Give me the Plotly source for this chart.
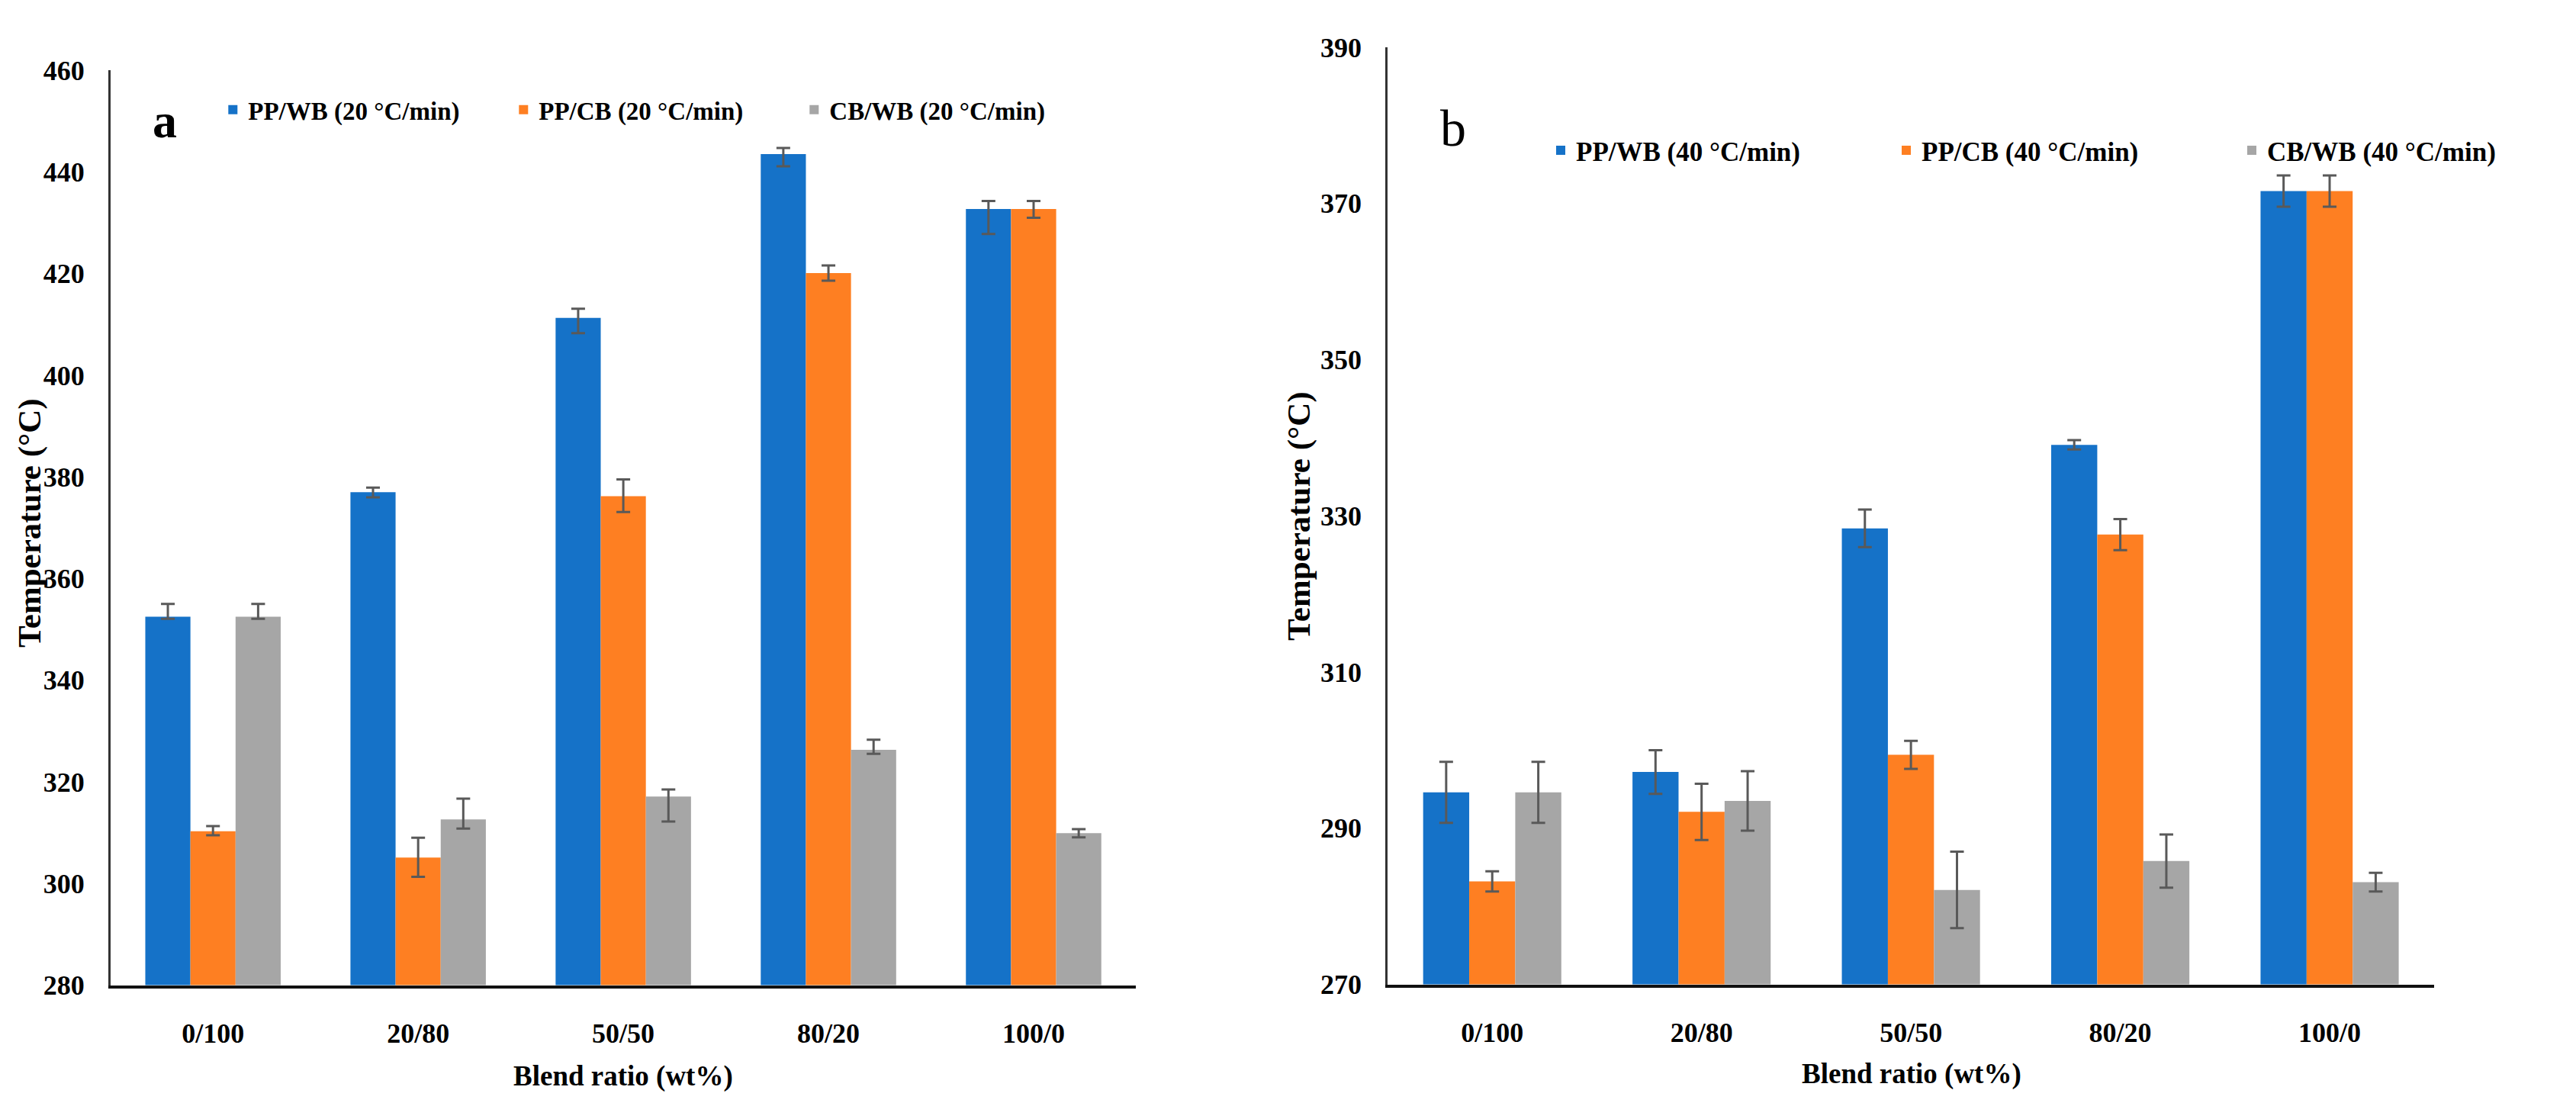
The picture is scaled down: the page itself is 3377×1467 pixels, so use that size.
import plotly.graph_objects as go

categories = ["0/100", "20/80", "50/50", "80/20", "100/0"]

# Panel a (20 °C/min)
a_names = ["PP/WB (20 °C/min)", "PP/CB (20 °C/min)", "CB/WB (20 °C/min)"]
a_ppwb = [352.5, 377.0, 411.3, 443.5, 432.7]
a_ppwb_plus = [2.5, 0.9, 1.8, 1.2, 1.6]
a_ppwb_minus = [0.4, 1.0, 3.0, 2.4, 4.9]
a_ppcb = [310.3, 305.1, 376.2, 420.1, 432.7]
a_ppcb_plus = [1.0, 3.9, 3.3, 1.5, 1.6]
a_ppcb_minus = [0.8, 3.8, 3.1, 1.5, 1.7]
a_cbwb = [352.5, 312.6, 317.1, 326.3, 309.9]
a_cbwb_plus = [2.5, 4.1, 1.4, 2.0, 0.8]
a_cbwb_minus = [0.4, 1.8, 4.9, 0.8, 0.8]

# Panel b (40 °C/min)
b_names = ["PP/WB (40 °C/min)", "PP/CB (40 °C/min)", "CB/WB (40 °C/min)"]
b_ppwb = [294.6, 297.2, 328.4, 339.1, 371.6]
b_ppwb_err = [3.9, 2.8, 2.4, 0.6, 2.0]
b_ppcb = [283.2, 292.1, 299.4, 327.6, 371.6]
b_ppcb_err = [1.3, 3.6, 1.8, 2.0, 2.0]
b_cbwb = [294.6, 293.5, 282.1, 285.8, 283.1]
b_cbwb_err = [3.9, 3.8, 4.9, 3.4, 1.2]

a_yticks = [280, 300, 320, 340, 360, 380, 400, 420, 440, 460]
b_yticks = [270, 290, 310, 330, 350, 370, 390]

colors = ["#1572C8", "#FE7F22", "#A6A6A6"]
err_color = "#595959"
W, H = 3377, 1467
FONT = "Liberation Serif, Times New Roman, serif"

fig = go.Figure()

a_vals = [a_ppwb, a_ppcb, a_cbwb]
a_plus = [a_ppwb_plus, a_ppcb_plus, a_cbwb_plus]
a_minus = [a_ppwb_minus, a_ppcb_minus, a_cbwb_minus]
for i in range(3):
    fig.add_trace(go.Bar(
        x=categories, y=a_vals[i], name=a_names[i],
        marker=dict(color=colors[i], line=dict(width=0)),
        error_y=dict(type="data", symmetric=False, array=a_plus[i], arrayminus=a_minus[i],
                     color=err_color, thickness=3, width=9),
        xaxis="x", yaxis="y", legend="legend", offsetgroup=str(i),
    ))

b_vals = [b_ppwb, b_ppcb, b_cbwb]
b_errs = [b_ppwb_err, b_ppcb_err, b_cbwb_err]
for i in range(3):
    fig.add_trace(go.Bar(
        x=categories, y=b_vals[i], name=b_names[i],
        marker=dict(color=colors[i], line=dict(width=0)),
        error_y=dict(type="data", array=b_errs[i], color=err_color, thickness=3, width=9),
        xaxis="x2", yaxis="y2", legend="legend2", offsetgroup=str(i),
    ))

tickfont = dict(family=FONT, size=36, color="black", weight="bold")

def xax(domain, anchor):
    return dict(domain=domain, anchor=anchor, showgrid=False, zeroline=False,
                showline=True, linecolor="#111111", linewidth=4, ticks="",
                tickfont=tickfont, ticklabelstandoff=28, type="category",
                fixedrange=True)

def yax(domain, anchor, rng, tickvals):
    return dict(domain=domain, anchor=anchor, range=rng, tickvals=tickvals,
                showgrid=False, zeroline=False, showline=True, linecolor="#333333",
                linewidth=2.5, ticks="", tickfont=tickfont, ticklabelstandoff=24)

fig.update_layout(
    width=W, height=H,
    margin=dict(l=0, r=0, t=0, b=0),
    paper_bgcolor="white", plot_bgcolor="white",
    barmode="group", bargap=0.34, bargroupgap=0,
    xaxis=xax([144 / W, 1560 / W], "y"),
    yaxis=yax([(H - 1300) / H, (H - 67) / H], "x", [280, 460], a_yticks),
    xaxis2=xax([1907 / W, 3352 / W], "y2"),
    yaxis2=yax([(H - 1299) / H, (H - 36) / H], "x2", [270, 390], b_yticks),
    legend=dict(orientation="h", x=292 / W, y=1 - 120 / H, xanchor="left", yanchor="middle",
                font=dict(family=FONT, size=33, color="black", weight="bold"),
                bgcolor="rgba(0,0,0,0)", entrywidth=336, entrywidthmode="pixels",
                traceorder="normal"),
    legend2=dict(orientation="h", x=2125 / W, y=1 - 175 / H, xanchor="left", yanchor="middle",
                 font=dict(family=FONT, size=35, color="black", weight="bold"),
                 bgcolor="rgba(0,0,0,0)", entrywidth=408, entrywidthmode="pixels",
                 traceorder="normal"),
    showlegend=True,
)

ann_font_title = dict(family=FONT, size=43, color="black", weight="bold")
ann_font_x = dict(family=FONT, size=37, color="black", weight="bold")
fig.add_annotation(text="Temperature (°C)", x=32 / W, y=1 - 677 / H, xref="paper", yref="paper",
                   textangle=-90, showarrow=False, font=ann_font_title, xanchor="center", yanchor="middle")
fig.add_annotation(text="Temperature (°C)", x=1785 / W, y=1 - 668 / H, xref="paper", yref="paper",
                   textangle=-90, showarrow=False, font=ann_font_title, xanchor="center", yanchor="middle")
fig.add_annotation(text="Blend ratio (wt%)", x=852 / W, y=1 - 1423 / H, xref="paper", yref="paper",
                   showarrow=False, font=ann_font_x, xanchor="center", yanchor="middle")
fig.add_annotation(text="Blend ratio (wt%)", x=2630 / W, y=1 - 1420 / H, xref="paper", yref="paper",
                   showarrow=False, font=ann_font_x, xanchor="center", yanchor="middle")
fig.add_annotation(text="a", x=219 / W, y=1 - 135 / H, xref="paper", yref="paper",
                   showarrow=False, font=dict(family=FONT, size=64, color="black", weight="bold"),
                   xanchor="center", yanchor="middle")
fig.add_annotation(text="b", x=1998 / W, y=1 - 145 / H, xref="paper", yref="paper",
                   showarrow=False, font=dict(family=FONT, size=68, color="black"),
                   xanchor="center", yanchor="middle")

fig.write_html("out.html")
